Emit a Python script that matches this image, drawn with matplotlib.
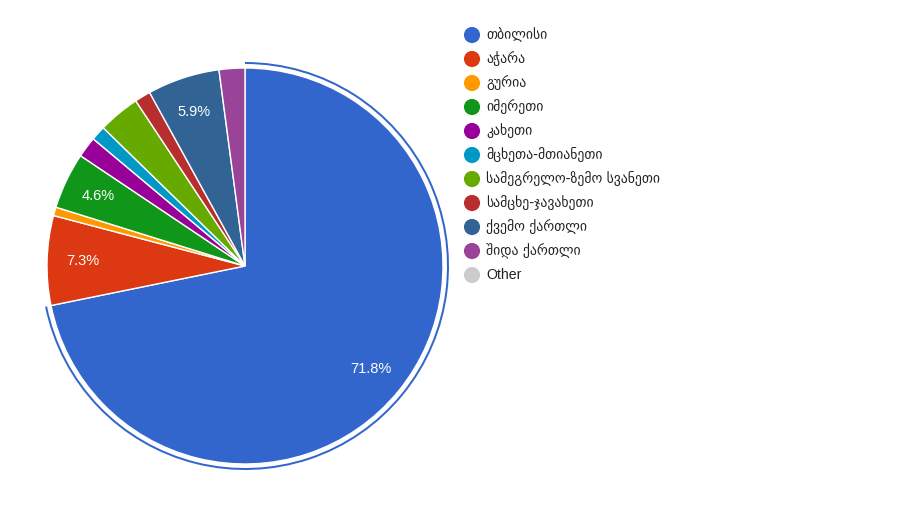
import matplotlib
matplotlib.use("Agg")
import matplotlib.pyplot as plt
from matplotlib.patches import Wedge
import numpy as np

categories = ["თბილისი", "აჭარა", "გურია", "იმერეთი", "კახეთი",
              "მცხეთა-მთიანეთი", "სამეგრელო-ზემო სვანეთი", "სამცხე-ჯავახეთი",
              "ქვემო ქართლი", "შიდა ქართლი", "Other"]
values = [71.8, 7.3, 0.7, 4.6, 1.7, 1.2, 3.4, 1.3, 5.9, 2.1, 0.0]
colors = ["#3366cc", "#dc3912", "#ff9900", "#109618", "#990099", "#0099c6",
          "#66aa00", "#b82e2e", "#316395", "#994499", "#cccccc"]

W, H = 908, 505
fig = plt.figure(figsize=(W / 100, H / 100), dpi=100)
ax = fig.add_axes([0, 0, 1, 1])

cx, cy, R = 245, H - 266, 198
vals = np.array(values)
idx = [i for i, v in enumerate(values) if v > 0]
wedges, _ = ax.pie(vals[idx], colors=[colors[i] for i in idx], startangle=90,
                   counterclock=False, center=(cx, cy), radius=R, frame=True,
                   wedgeprops=dict(edgecolor="white", linewidth=1))

# percentage labels
total = vals.sum()
cum = 0.0
for v in values:
    if v <= 0:
        continue
    mid = cum + v / 2
    cum += v
    if v / total * 100 < 4.0:
        continue
    ang = np.deg2rad(90 - mid / total * 360)
    rr = 0.82 * R
    ax.text(cx + rr * np.cos(ang), cy + rr * np.sin(ang), f"{v / total * 100:.1f}%",
            color="white", fontsize=10.5, family="Liberation Sans",
            ha="center", va="center")

# highlight ring around selected first slice
end_ang = 90 - values[0] / total * 360
ax.add_patch(Wedge((cx, cy), R + 6, end_ang, 90, width=2, facecolor="#3366cc",
                   edgecolor="none"))

# legend
lx, ly0, dy = 472, H - 35, 24
for i, (name, col) in enumerate(zip(categories, colors)):
    y = ly0 - i * dy
    ax.scatter([lx], [y], s=135, color=col, edgecolors="none", zorder=5)
    fam = ["Liberation Sans", "DejaVu Sans"] if name == "Other" else ["DejaVu Sans"]
    ax.text(lx + 14, y, name, fontsize=10.2 if name == "Other" else 9.9,
            family=fam, color="#222222", va="center", ha="left")

ax.set_xlim(0, W)
ax.set_ylim(0, H)
ax.set_aspect("equal")
ax.axis("off")
fig.savefig("out.png", dpi=100, facecolor="white")
